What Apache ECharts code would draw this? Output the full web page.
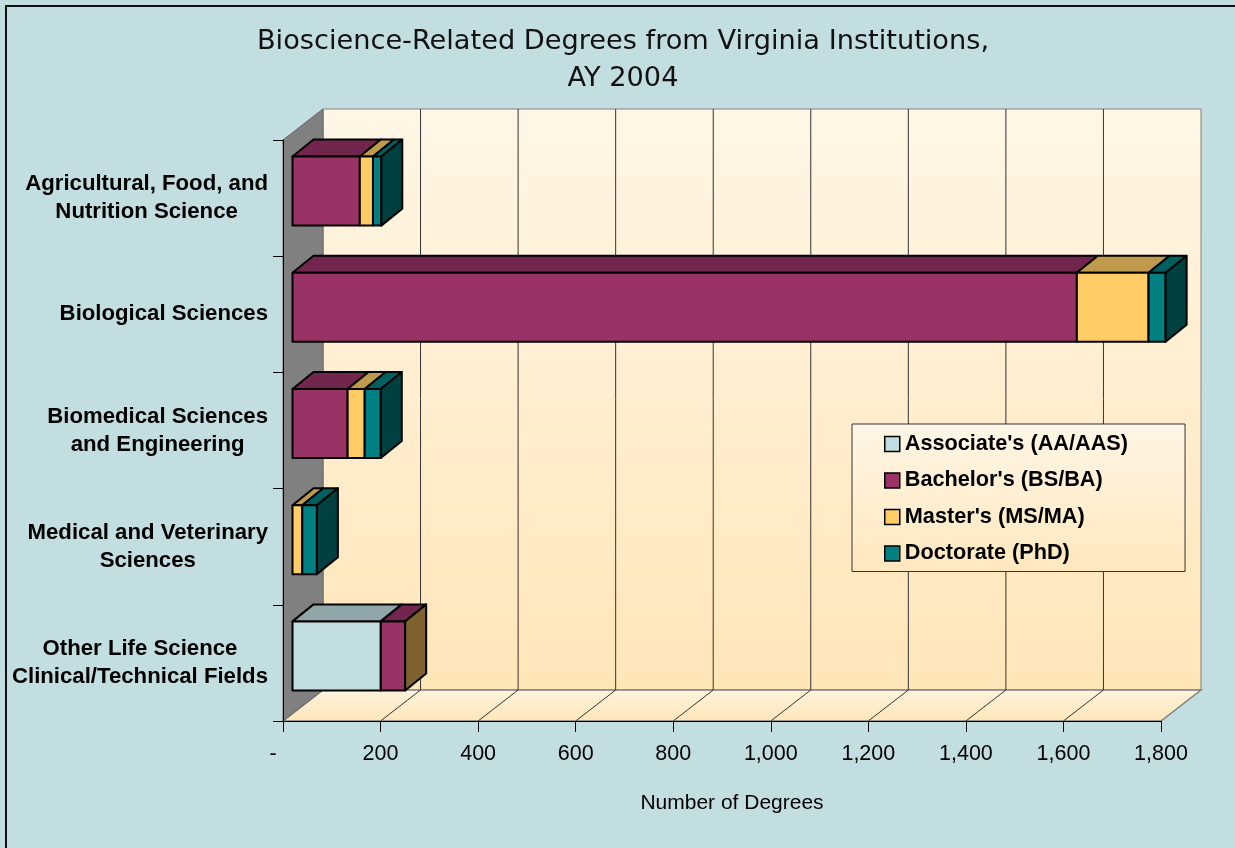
<!DOCTYPE html>
<html>
<head>
<meta charset="utf-8">
<title>Bioscience-Related Degrees</title>
<script src="https://cdn.jsdelivr.net/npm/echarts@6/dist/echarts.min.js"></script>
<style>
  html, body { margin: 0; padding: 0; background: #C3DEE1; }
  #chart { width: 1235px; height: 848px; }
</style>
</head>
<body>
<div id="chart"></div>
<script>
// data
const CATEGORIES = [
  'Agricultural, Food, and\nNutrition Science',
  'Biological Sciences',
  'Biomedical Sciences\nand Engineering',
  'Medical and Veterinary\nSciences',
  'Other Life Science\nClinical/Technical Fields',
];
const SERIES_NAMES = ["Associate's (AA/AAS)", "Bachelor's (BS/BA)", "Master's (MS/MA)", 'Doctorate (PhD)'];
const ASSOCIATE = [0, 0, 0, 0, 181];
const BACHELOR  = [138, 1608, 113, 0, 50];
const MASTER    = [27, 147, 35, 20, 0];
const DOCTORATE = [17, 35, 33, 30, 0];
const X_TICKS = [0, 200, 400, 600, 800, 1000, 1200, 1400, 1600, 1800];

// faces: front / top / right side
const FACES = [
  { front: '#C2DDE0', top: '#91A6A8', side: '#61797B' },
  { front: '#993366', top: '#73264D', side: '#7F6230' },
  { front: '#FFCC66', top: '#BF994C', side: '#806633' },
  { front: '#008080', top: '#006060', side: '#004040' },
];

// fake 3d geometry (pixels)
const WALL_DEPTH = [40, -31];
const BAR_FRONT = [9.5, -7];
const BAR_DEPTH = [21, -17];
const BAR_RATIO = 0.594;

function stackData() {
  const layers = [ASSOCIATE, BACHELOR, MASTER, DOCTORATE];
  const out = layers.map(() => []);
  CATEGORIES.forEach((c, i) => {
    let acc = 0, last = -1;
    layers.forEach((arr, k) => { if (arr[i] > 0) last = k; });
    layers.forEach((arr, k) => {
      if (arr[i] > 0) out[k].push([i, acc, acc + arr[i], k === last ? 1 : 0]);
      acc += arr[i];
    });
  });
  return out;
}

function barItem(face) {
  return function (params, api) {
    const cat = api.value(0);
    const a = api.coord([api.value(1), cat]);
    const b = api.coord([api.value(2), cat]);
    const h = api.size([0, 1])[1] * BAR_RATIO;
    const x0 = a[0] + BAR_FRONT[0], x1 = b[0] + BAR_FRONT[0];
    const yc = a[1] + BAR_FRONT[1];
    const y0 = yc - h / 2, y1 = yc + h / 2;
    const dx = BAR_DEPTH[0], dy = BAR_DEPTH[1];
    const line = { stroke: '#000', lineWidth: 2, lineJoin: 'round' };
    const children = [
      { type: 'polygon', shape: { points: [[x0, y0], [x1, y0], [x1 + dx, y0 + dy], [x0 + dx, y0 + dy]] },
        style: Object.assign({ fill: face.top }, line) },
      { type: 'rect', shape: { x: x0, y: y0, width: x1 - x0, height: y1 - y0 },
        style: Object.assign({ fill: face.front }, line) },
    ];
    if (api.value(3)) {
      children.push({ type: 'polygon',
        shape: { points: [[x1, y0], [x1 + dx, y0 + dy], [x1 + dx, y1 + dy], [x1, y1]] },
        style: Object.assign({ fill: face.side }, line) });
    }
    return { type: 'group', children };
  };
}

function wallsItem(params, api) {
  const cs = params.coordSys;
  const L = cs.x, R = cs.x + cs.width, T = cs.y, B = cs.y + cs.height;
  const dx = WALL_DEPTH[0], dy = WALL_DEPTH[1];
  const backFill = new echarts.graphic.LinearGradient(0, 0, 0, 1, [
    { offset: 0, color: '#FFF6E6' }, { offset: 1, color: '#FFE6B8' }]);
  const floorFill = new echarts.graphic.LinearGradient(0, 0, 0, 1, [
    { offset: 0, color: '#FFF4DE' }, { offset: 1, color: '#FFE6B8' }]);
  const children = [
    { type: 'rect', shape: { x: L + dx, y: T + dy, width: R - L, height: B - T },
      style: { fill: backFill, stroke: '#808080', lineWidth: 1 } },
    { type: 'polygon', shape: { points: [[L, B], [R, B], [R + dx, B + dy], [L + dx, B + dy]] },
      style: { fill: floorFill, stroke: '#808080', lineWidth: 1.5 } },
    { type: 'polygon', shape: { points: [[L, T], [L + dx, T + dy], [L + dx, B + dy], [L, B]] },
      style: { fill: '#808080', stroke: '#666', lineWidth: 1 } },
  ];
  X_TICKS.forEach(v => {
    if (v <= 0 || v >= X_TICKS[X_TICKS.length - 1]) return;
    const x = api.coord([v, 0])[0];
    children.push({ type: 'line', shape: { x1: x + dx, y1: T + dy, x2: x + dx, y2: B + dy },
      style: { stroke: '#333', lineWidth: 1 } });
    children.push({ type: 'line', shape: { x1: x, y1: B, x2: x + dx, y2: B + dy },
      style: { stroke: '#333', lineWidth: 1 } });
  });
  return { type: 'group', children };
}

const chart = echarts.init(document.getElementById('chart'));
const stacked = stackData();
const FONT = "'Liberation Sans', Arial, sans-serif";

chart.setOption({
  backgroundColor: '#C3DEE1',
  animation: false,
  textStyle: { fontFamily: FONT, color: '#000' },
  title: {
    text: 'Bioscience-Related Degrees from Virginia Institutions,\nAY 2004',
    left: 623, top: 23, padding: 0, textAlign: 'center',
    textStyle: { fontFamily: "'DejaVu Sans', sans-serif", fontSize: 27.2, fontWeight: 'normal',
      lineHeight: 37, color: '#111' },
  },
  graphic: [{
    type: 'rect', shape: { x: 6, y: 6, width: 1300, height: 900 }, silent: true,
    style: { fill: 'none', stroke: '#111', lineWidth: 2 },
  }],
  legend: {
    orient: 'vertical', left: 852, top: 424,
    padding: [9, 57, 7, 32], itemGap: 14.5,
    itemWidth: 15, itemHeight: 15, icon: 'rect',
    itemStyle: { borderColor: '#000', borderWidth: 1.5 },
    backgroundColor: new echarts.graphic.LinearGradient(0, 0, 0, 1, [
      { offset: 0, color: '#FFF6E6' }, { offset: 1, color: '#FFE8BE' }]),
    borderColor: '#333', borderWidth: 1,
    textStyle: { fontFamily: FONT, fontSize: 21.7, fontWeight: 'bold', color: '#000', lineHeight: 22 },
    data: SERIES_NAMES,
  },
  grid: { left: 283, top: 140, width: 878, height: 581, containLabel: false, outerBoundsMode: 'none' },
  xAxis: {
    type: 'value', min: 0, max: 1800, interval: 200, z: 10,
    name: 'Number of Degrees', nameLocation: 'middle', nameGap: 72,
    nameTextStyle: { fontFamily: FONT, fontSize: 21, color: '#000', padding: [0, 0, 0, 20] },
    axisLine: { show: true, lineStyle: { color: '#000', width: 1 } },
    axisTick: { show: true, length: 11, lineStyle: { color: '#000' } },
    splitLine: { show: false },
    axisLabel: {
      fontFamily: FONT, fontSize: 21.5, color: '#000', margin: 22,
      formatter: v => v === 0 ? '{d|-}' : v.toLocaleString('en-US'),
      rich: { d: { fontFamily: FONT, fontSize: 21.5, color: '#000', padding: [0, 20, 0, 0] } },
    },
  },
  yAxis: {
    type: 'category', data: CATEGORIES, inverse: true, z: 10,
    axisLine: { show: true, lineStyle: { color: '#000', width: 1 } },
    axisTick: { show: true, length: 10, lineStyle: { color: '#000' } },
    splitLine: { show: false },
    axisLabel: {
      margin: 15, align: 'right',
      formatter: v => v.split('\n').map(s => '{c|' + s + '}').join('\n'),
      rich: { c: { align: 'center', fontFamily: FONT, fontSize: 22.2, fontWeight: 'bold',
        color: '#000', lineHeight: 28 } },
    },
  },
  series: [
    {
      type: 'custom', name: 'walls', z: 1, silent: true,
      data: [[0, 0]], encode: { x: 0, y: 1 },
      renderItem: wallsItem,
    },
  ].concat(SERIES_NAMES.map((name, k) => ({
    type: 'custom', name, z: 3 + k,
    itemStyle: { color: FACES[k].front },
    data: stacked[k], encode: { x: [1, 2], y: 0 },
    renderItem: barItem(FACES[k]),
  }))),
});
</script>
</body>
</html>
